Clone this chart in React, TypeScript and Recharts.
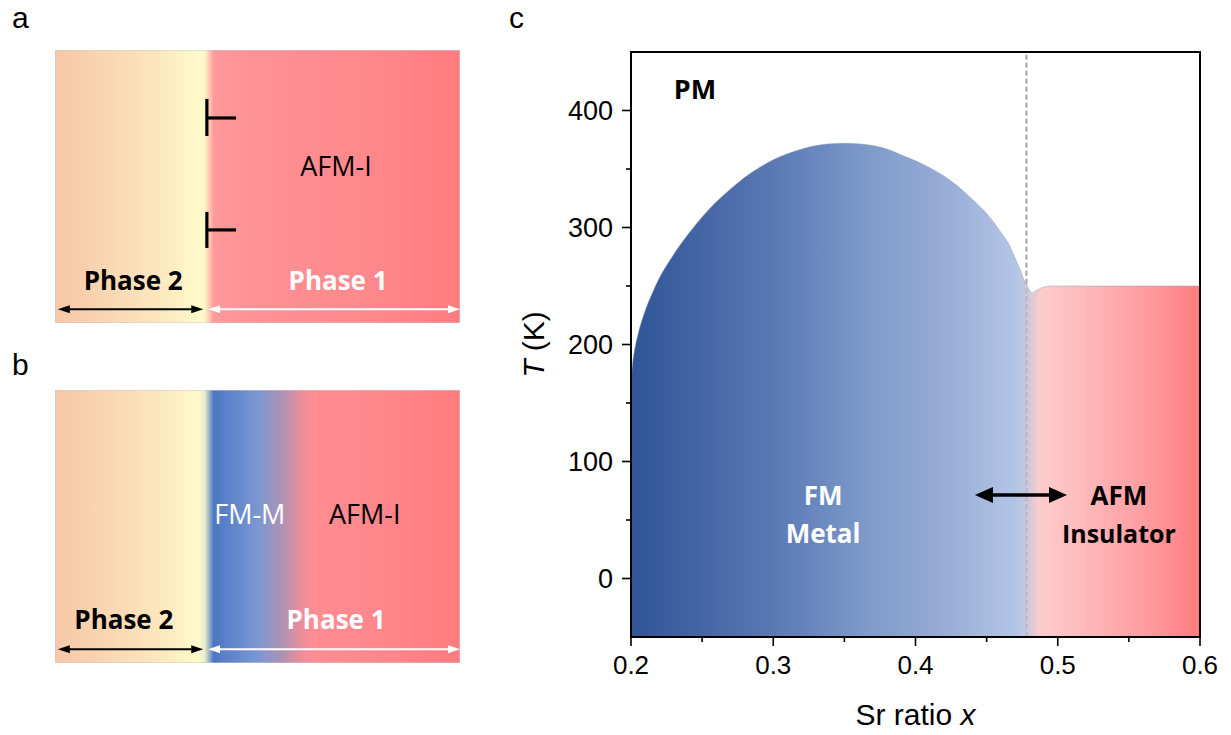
import React from 'react';
import {
  ComposedChart,
  Area,
  Line,
  XAxis,
  YAxis,
  ReferenceArea,
  ReferenceLine,
  ReferenceDot,
} from 'recharts';

// phase diagram (panel c): upper boundary of the FM dome + AFM region
const domeX = [
  0.2, 0.2005, 0.201, 0.2025, 0.205, 0.21, 0.215, 0.22, 0.23, 0.24, 0.25, 0.26, 0.27, 0.28, 0.29, 0.3,
  0.31, 0.32, 0.33, 0.34, 0.35, 0.36, 0.37, 0.38, 0.39, 0.4, 0.41, 0.42, 0.43, 0.44, 0.45, 0.46, 0.465,
  0.47, 0.4735, 0.476, 0.478, 0.4805, 0.482, 0.484, 0.487, 0.49, 0.495, 0.5, 0.55, 0.6,
];
const domeT = [
  160, 175, 182, 195, 209, 229, 244, 257, 277, 294, 309, 322, 333, 343, 351, 358,
  363, 367, 370, 371.5, 372, 371.5, 370, 367, 362, 357, 351, 344, 335, 324, 312, 296, 287,
  274, 264, 256, 251, 246, 244, 245.5, 247.5, 249, 250, 250, 250, 250,
];

const xTicks = [0.2, 0.25, 0.3, 0.35, 0.4, 0.45, 0.5, 0.55, 0.6];
const yTicks = [0, 50, 100, 150, 200, 250, 300, 350, 400];
const xDomain = [0.2, 0.6];
const yDomain = [-50, 450];
const boundaryX = 0.478;

// schematic panels use a 0..100 unit box
const unitDomain = [0, 100];
const phaseSplit = 37.5;
const disloc1 = { y1: 82.1, y2: 68.5, arm: 75.1, end: 44.7 };
const disloc2 = { y1: 40.7, y2: 27.5, arm: 34.1, end: 44.7 };

const TICK_SIZE = 9;
const TICK_MARGIN = 9;
const TICK_FONT = '"Liberation Sans", Arial, sans-serif';
const TEXT_FONT = '"Open Sans", sans-serif';

const domeData = domeX.map((x, i) => ({ x, T: domeT[i] }));
const unitData = [{ x: 0, y: 0 }, { x: 100, y: 100 }];

const arrowShape = (color: string, w: number, head: number, half: number) => (p: any) => {
  const l = Math.min(p.x1, p.x2);
  const r = Math.max(p.x1, p.x2);
  const y = p.y1;
  return (
    <g>
      <line x1={l + head * 0.7} y1={y} x2={r - head * 0.7} y2={y} stroke={color} strokeWidth={w} />
      <polygon points={`${l},${y} ${l + head},${y - half} ${l + head},${y + half}`} fill={color} />
      <polygon points={`${r},${y} ${r - head},${y - half} ${r - head},${y + half}`} fill={color} />
    </g>
  );
};

const textShape = (label: string, color: string, size: number, weight: number) => (p: any) => (
  <text x={p.cx} y={p.cy} textAnchor="middle" fill={color} fontSize={size} fontWeight={weight} fontFamily={TEXT_FONT}>
    {label}
  </text>
);

const XTick = (props: any) => {
  const { x, y, payload } = props;
  const v = payload.value as number;
  const major = Math.round(v * 100) % 10 === 0;
  const ay = y - TICK_SIZE - TICK_MARGIN;
  return (
    <g>
      <line x1={x} y1={ay} x2={x} y2={ay + (major ? 9 : 5)} stroke="#000" strokeWidth={1.6} />
      {major && (
        <text x={x} y={y} dy="0.72em" textAnchor="middle" fontSize={26} fontFamily={TICK_FONT} fill="#000">
          {v.toFixed(1)}
        </text>
      )}
    </g>
  );
};

const YTick = (props: any) => {
  const { x, y, payload } = props;
  const v = payload.value as number;
  const major = v % 100 === 0;
  const ax = x + TICK_SIZE + TICK_MARGIN;
  return (
    <g>
      <line x1={ax - (major ? 9 : 5)} y1={y} x2={ax} y2={y} stroke="#000" strokeWidth={1.6} />
      {major && (
        <text x={x} y={y} dy="0.36em" textAnchor="end" fontSize={27} fontFamily={TICK_FONT} fill="#000">
          {v}
        </text>
      )}
    </g>
  );
};

const XTitle = (props: any) => {
  const { x, y, width } = props.viewBox;
  return (
    <text x={x + width / 2} y={y + 88} textAnchor="middle" fontSize={30} fontFamily={TICK_FONT} fill="#000">
      Sr ratio <tspan fontStyle="italic">x</tspan>
    </text>
  );
};

const YTitle = (props: any) => {
  const { x, y, height } = props.viewBox;
  const cx = x + 44;
  const cy = y + height / 2;
  return (
    <text x={cx} y={cy} transform={`rotate(-90 ${cx} ${cy})`} textAnchor="middle" fontSize={30} fontFamily={TICK_FONT} fill="#000">
      <tspan fontStyle="italic">T</tspan> (K)
    </text>
  );
};

function Gradient({ id, stops }: { id: string; stops: [number, string][] }) {
  return (
    <linearGradient id={id} x1="0" y1="0" x2="1" y2="0">
      {stops.map(([o, c]) => (
        <stop key={o} offset={o} stopColor={c} />
      ))}
    </linearGradient>
  );
}

const stopsA: [number, string][] = [
  [0, '#f7c7a8'], [0.1, '#f9d3b0'], [0.25, '#fce6bd'], [0.355, '#fffac9'], [0.37, '#fff5c6'],
  [0.392, '#ff999c'], [0.5, '#ff9195'], [0.8, '#ff878b'], [1, '#ff7b7f'],
];
const stopsB: [number, string][] = [
  [0, '#f7c7a8'], [0.1, '#f9d3b0'], [0.25, '#fce6bd'], [0.355, '#fffac9'], [0.37, '#e7ecca'],
  [0.392, '#4b75c4'], [0.42, '#5a80c8'], [0.5, '#7a97d2'], [0.56, '#ac92b4'], [0.605, '#e98e9c'],
  [0.64, '#ff8d92'], [0.8, '#ff878b'], [1, '#ff7b7f'],
];
const domeStops: [number, string][] = [
  [0, '#2f5597'], [0.12, '#4465a4'], [0.25, '#5a79b4'], [0.42, '#7f9bcb'], [0.55, '#97acd6'],
  [0.68, '#b4c6e6'], [0.695, '#c9c8dc'], [0.72, '#ffcbcc'], [0.82, '#ffb3b5'], [0.92, '#ff979b'],
  [1, '#ff7c80'],
];

function Schematic({ id, stops, top, fmM }: { id: string; stops: [number, string][]; top: number; fmM: boolean }) {
  const labelY = fmM ? 50.9 : 53.8;
  const phaseY = fmM ? 12.5 : 12.1;
  return (
    <div style={{ position: 'absolute', left: 55, top }}>
      <ComposedChart width={405} height={273} data={unitData} margin={{ top: 0, right: 0, bottom: 0, left: 0 }}>
        <defs>
          <Gradient id={id} stops={stops} />
        </defs>
        <XAxis dataKey="x" type="number" domain={unitDomain} hide />
        <YAxis type="number" domain={unitDomain} hide />
        <Line dataKey="y" stroke="none" dot={false} activeDot={false} isAnimationActive={false} />
        <ReferenceArea x1={0} x2={100} y1={0} y2={100} fill={`url(#${id})`} fillOpacity={1} stroke="#c9c9c9" strokeWidth={1} />
        {!fmM && (
          <ReferenceLine segment={[{ x: phaseSplit, y: disloc1.y1 }, { x: phaseSplit, y: disloc1.y2 }]} stroke="#000" strokeWidth={3.2} />
        )}
        {!fmM && (
          <ReferenceLine segment={[{ x: phaseSplit, y: disloc1.arm }, { x: disloc1.end, y: disloc1.arm }]} stroke="#000" strokeWidth={3.2} />
        )}
        {!fmM && (
          <ReferenceLine segment={[{ x: phaseSplit, y: disloc2.y1 }, { x: phaseSplit, y: disloc2.y2 }]} stroke="#000" strokeWidth={3.2} />
        )}
        {!fmM && (
          <ReferenceLine segment={[{ x: phaseSplit, y: disloc2.arm }, { x: disloc2.end, y: disloc2.arm }]} stroke="#000" strokeWidth={3.2} />
        )}
        {!fmM && <ReferenceDot x={69.4} y={labelY} r={0} shape={textShape('AFM-I', '#000', 27, 400)} />}
        {fmM && <ReferenceDot x={48.1} y={labelY} r={0} shape={textShape('FM-M', '#fff', 27, 400)} />}
        {fmM && <ReferenceDot x={76.5} y={labelY} r={0} shape={textShape('AFM-I', '#000', 27, 400)} />}
        <ReferenceDot x={fmM ? 17 : 19.3} y={phaseY} r={0} shape={textShape('Phase 2', '#000', 26, 700)} />
        <ReferenceDot x={fmM ? 69.4 : 69.9} y={phaseY} r={0} shape={textShape('Phase 1', '#fff', 26, 700)} />
        <ReferenceLine segment={[{ x: 0.7, y: 5 }, { x: 36.6, y: 5 }]} stroke="#000" shape={arrowShape('#000', 2, 12, 4)} />
        <ReferenceLine segment={[{ x: 37.8, y: 5 }, { x: 100, y: 5 }]} stroke="#fff" shape={arrowShape('#fff', 2, 12, 4)} />
      </ComposedChart>
    </div>
  );
}

function PhaseDiagram() {
  return (
    <div style={{ position: 'absolute', left: 500, top: 30 }}>
      <ComposedChart width={720} height={705} data={domeData} margin={{ top: 22, right: 20, bottom: 0, left: 0 }}>
        <defs>
          <Gradient id="domeFill" stops={domeStops} />
        </defs>
        <XAxis
          dataKey="x"
          type="number"
          domain={xDomain}
          ticks={xTicks}
          interval={0}
          height={98}
          tickSize={TICK_SIZE}
          tickMargin={TICK_MARGIN}
          tickLine={{ stroke: 'transparent' }}
          tick={<XTick />}
          axisLine={{ stroke: '#000', strokeWidth: 2 }}
          allowDataOverflow
          label={<XTitle />}
        />
        <YAxis
          type="number"
          domain={yDomain}
          ticks={yTicks}
          interval={0}
          width={131}
          tickSize={TICK_SIZE}
          tickMargin={TICK_MARGIN}
          tickLine={{ stroke: 'transparent' }}
          tick={<YTick />}
          axisLine={{ stroke: '#000', strokeWidth: 2 }}
          allowDataOverflow
          label={<YTitle />}
        />
        <Area
          type="monotone"
          dataKey="T"
          baseValue={-50}
          fill="url(#domeFill)"
          fillOpacity={1}
          stroke="#8d97ad"
          strokeOpacity={0.45}
          strokeWidth={1}
          isAnimationActive={false}
          dot={false}
          activeDot={false}
        />
        <ReferenceLine segment={[{ x: boundaryX, y: -50 }, { x: boundaryX, y: 252 }]} stroke="#9a9a9a" strokeOpacity={0.35} strokeDasharray="5 3" strokeWidth={2} />
        <ReferenceLine segment={[{ x: boundaryX, y: 252 }, { x: boundaryX, y: 450 }]} stroke="#a6a6a6" strokeDasharray="5 3" strokeWidth={2} />
        <ReferenceDot x={0.245} y={410} r={0} shape={textShape('PM', '#000', 27, 700)} />
        <ReferenceDot x={0.335} y={62.7} r={0} shape={textShape('FM', '#fff', 26, 700)} />
        <ReferenceDot x={0.335} y={30.5} r={0} shape={textShape('Metal', '#fff', 26, 700)} />
        <ReferenceDot x={0.543} y={62.7} r={0} shape={textShape('AFM', '#000', 26, 700)} />
        <ReferenceDot x={0.543} y={30.5} r={0} shape={textShape('Insulator', '#000', 25, 700)} />
        <ReferenceLine segment={[{ x: 0.4418, y: 71.4 }, { x: 0.5065, y: 71.4 }]} stroke="#000" shape={arrowShape('#000', 3.5, 18, 8)} />
        <ReferenceArea x1={0.2} x2={0.6} y1={-50} y2={450} fill="none" fillOpacity={0} stroke="#000" strokeWidth={2} />
      </ComposedChart>
    </div>
  );
}

export default function App() {
  return (
    <div style={{ position: 'absolute', left: 0, top: 0, width: 1231, height: 735, background: '#fff' }}>
      <Schematic id="gradA" stops={stopsA} top={50} fmM={false} />
      <Schematic id="gradB" stops={stopsB} top={390} fmM={true} />
      <PhaseDiagram />
      <svg width={1231} height={735} style={{ position: 'absolute', left: 0, top: 0, pointerEvents: 'none' }}>
        <text x={12} y={28} fontSize={30} fontFamily={TICK_FONT} fill="#000">a</text>
        <text x={12} y={375} fontSize={30} fontFamily={TICK_FONT} fill="#000">b</text>
        <text x={509} y={28} fontSize={30} fontFamily={TICK_FONT} fill="#000">c</text>
      </svg>
    </div>
  );
}
